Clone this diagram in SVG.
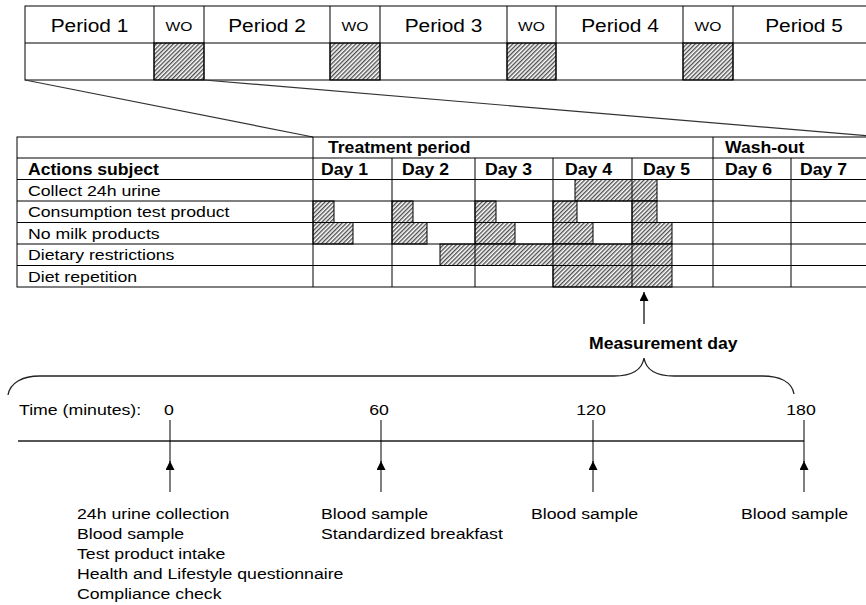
<svg xmlns="http://www.w3.org/2000/svg" width="866" height="605" viewBox="0 0 866 605">
<defs>
<pattern id="hatch" patternUnits="userSpaceOnUse" width="3" height="3" patternTransform="rotate(45)">
<rect width="3" height="3" fill="#fff"/>
<line x1="0.75" y1="0" x2="0.75" y2="3" stroke="#222" stroke-width="1.1"/>
</pattern>
<marker id="arr" viewBox="0 0 10 10" refX="10" refY="5" markerWidth="9" markerHeight="9" markerUnits="userSpaceOnUse" orient="auto">
<path d="M0,0 L10,5 L0,10 Z" fill="#000"/>
</marker>
<style>
text{font-family:"Liberation Sans",Arial,sans-serif;fill:#000}
.r{font-size:15px}
.b{font-size:16px;font-weight:bold}
.p{font-size:18px}
.wo{font-size:13px}
.ln{stroke:#000;stroke-width:1;fill:none}
.hb{fill:url(#hatch);stroke:#000;stroke-width:1}
.zm{stroke:#333;stroke-width:1.2;fill:none}
.ax{stroke:#000;stroke-width:1.2;fill:none}
</style>
</defs>
<rect width="866" height="605" fill="#fff"/>

<g id="periods">
<rect class="hb" x="154" y="43" width="50" height="37"/>
<rect class="hb" x="330" y="43" width="50" height="37"/>
<rect class="hb" x="507" y="43" width="49" height="37"/>
<rect class="hb" x="683" y="43" width="50" height="37"/>
<rect class="ln" x="25" y="6" width="860" height="74"/>
<path class="ln" d="M25,43H885M154,6V80M204,6V80M330,6V80M380,6V80M507,6V80M556,6V80M683,6V80M733,6V80"/>
<text class="p" text-anchor="middle" transform="translate(89.5 32) scale(1.16 1)">Period 1</text>
<text class="wo" text-anchor="middle" transform="translate(179 31) scale(1.2 1)">WO</text>
<text class="p" text-anchor="middle" transform="translate(267 32) scale(1.16 1)">Period 2</text>
<text class="wo" text-anchor="middle" transform="translate(355 31) scale(1.2 1)">WO</text>
<text class="p" text-anchor="middle" transform="translate(443.5 32) scale(1.16 1)">Period 3</text>
<text class="wo" text-anchor="middle" transform="translate(531.5 31) scale(1.2 1)">WO</text>
<text class="p" text-anchor="middle" transform="translate(620 32) scale(1.16 1)">Period 4</text>
<text class="wo" text-anchor="middle" transform="translate(708 31) scale(1.2 1)">WO</text>
<text class="p" text-anchor="middle" transform="translate(804 32) scale(1.16 1)">Period 5</text>
</g>

<g id="connectors">
<line class="zm" x1="25" y1="80" x2="313" y2="137"/>
<line class="zm" x1="204" y1="80" x2="870" y2="136"/>
<line class="ax" x1="644" y1="324" x2="644" y2="292" marker-end="url(#arr)"/>
</g>

<g id="schedule">
<rect class="hb" x="575" y="179.5" width="82" height="21.5"/>
<rect class="hb" x="313" y="201" width="21" height="21.5"/>
<rect class="hb" x="392" y="201" width="21" height="21.5"/>
<rect class="hb" x="475" y="201" width="21" height="21.5"/>
<rect class="hb" x="553" y="201" width="24" height="21.5"/>
<rect class="hb" x="632" y="201" width="25" height="21.5"/>
<rect class="hb" x="313" y="222.5" width="40" height="21.5"/>
<rect class="hb" x="392" y="222.5" width="35" height="21.5"/>
<rect class="hb" x="475" y="222.5" width="40" height="21.5"/>
<rect class="hb" x="553" y="222.5" width="40" height="21.5"/>
<rect class="hb" x="632" y="222.5" width="40" height="21.5"/>
<rect class="hb" x="440" y="244" width="232" height="21.5"/>
<rect class="hb" x="553" y="265.5" width="119" height="21.5"/>
<rect class="ln" x="17" y="137" width="870" height="150"/>
<path class="ln" d="M17,158H887M17,179.5H887M17,201H887M17,222.5H887M17,244H887M17,265.5H887M313,137V287M713,137V287M392,158V287M475,158V287M553,158V287M632,158V287M791,158V287"/>
<text class="b" transform="translate(328 153) scale(1.1 1)">Treatment period</text>
<text class="b" transform="translate(725 153) scale(1.1 1)">Wash-out</text>
<text class="b" transform="translate(28 174.5) scale(1.1 1)">Actions subject</text>
<text class="b" transform="translate(321 174.5) scale(1.1 1)">Day 1</text>
<text class="b" transform="translate(402 174.5) scale(1.1 1)">Day 2</text>
<text class="b" transform="translate(485 174.5) scale(1.1 1)">Day 3</text>
<text class="b" transform="translate(565 174.5) scale(1.1 1)">Day 4</text>
<text class="b" transform="translate(643 174.5) scale(1.1 1)">Day 5</text>
<text class="b" transform="translate(725 174.5) scale(1.1 1)">Day 6</text>
<text class="b" transform="translate(800 174.5) scale(1.1 1)">Day 7</text>
<text class="r" transform="translate(28 195.5) scale(1.18 1)">Collect 24h urine</text>
<text class="r" transform="translate(28 217) scale(1.18 1)">Consumption test product</text>
<text class="r" transform="translate(28 238.5) scale(1.18 1)">No milk products</text>
<text class="r" transform="translate(28 260) scale(1.18 1)">Dietary restrictions</text>
<text class="r" transform="translate(28 281.5) scale(1.18 1)">Diet repetition</text>
</g>

<g id="measurement-day">
<text class="b" transform="translate(589 349) scale(1.1 1)">Measurement day</text>
<path d="M8,395 C10,383 22,376 40,376 L614,376 C632,376 642,370 644,358 C646,370 656,376 674,376 L762,376 C780,376 792,382 794,394" fill="none" stroke="#222" stroke-width="1.3"/>
</g>

<g id="timeline">
<text class="r" transform="translate(19 415) scale(1.18 1)">Time (minutes):</text>
<line x1="18" y1="441" x2="804" y2="441" stroke="#555" stroke-width="2"/>
</g>

<g id="t0">
<text class="r" text-anchor="middle" transform="translate(169 415) scale(1.18 1)">0</text>
<line class="ln" x1="170" y1="420" x2="170" y2="462"/>
<line class="ln" x1="170" y1="492" x2="170" y2="461" marker-end="url(#arr)"/>
<text class="r" transform="translate(77 519) scale(1.18 1)">24h urine collection</text>
<text class="r" transform="translate(77 539) scale(1.18 1)">Blood sample</text>
<text class="r" transform="translate(77 559) scale(1.18 1)">Test product intake</text>
<text class="r" transform="translate(77 579) scale(1.18 1)">Health and Lifestyle questionnaire</text>
<text class="r" transform="translate(77 599) scale(1.18 1)">Compliance check</text>
</g>

<g id="t60">
<text class="r" text-anchor="middle" transform="translate(379 415) scale(1.18 1)">60</text>
<line class="ln" x1="381" y1="420" x2="381" y2="462"/>
<line class="ln" x1="381" y1="492" x2="381" y2="461" marker-end="url(#arr)"/>
<text class="r" transform="translate(321 519) scale(1.18 1)">Blood sample</text>
<text class="r" transform="translate(321 539) scale(1.18 1)">Standardized breakfast</text>
</g>

<g id="t120">
<text class="r" text-anchor="middle" transform="translate(591 415) scale(1.18 1)">120</text>
<line class="ln" x1="593" y1="420" x2="593" y2="462"/>
<line class="ln" x1="593" y1="492" x2="593" y2="461" marker-end="url(#arr)"/>
<text class="r" transform="translate(531 519) scale(1.18 1)">Blood sample</text>
</g>

<g id="t180">
<text class="r" text-anchor="middle" transform="translate(801 415) scale(1.18 1)">180</text>
<line class="ln" x1="804" y1="420" x2="804" y2="462"/>
<line class="ln" x1="804" y1="492" x2="804" y2="461" marker-end="url(#arr)"/>
<text class="r" transform="translate(741 519) scale(1.18 1)">Blood sample</text>
</g>
</svg>
